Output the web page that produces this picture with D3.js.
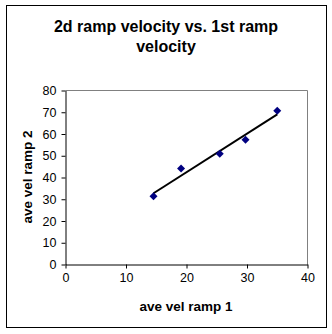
<!DOCTYPE html>
<html><head><meta charset="utf-8">
<script src="https://cdn.jsdelivr.net/npm/d3@7"></script>
<style>body{margin:0;background:#fff;}svg{display:block;}</style>
</head><body>
<script>
const titleLines = ["2d ramp velocity vs. 1st ramp", "velocity"];
const xLabel = "ave vel ramp 1";
const yLabel = "ave vel ramp 2";
const xValues = [14.55, 19.1, 25.5, 29.75, 35.0];
const yValues = [31.4, 44.1, 50.9, 57.3, 70.7];
const xTicks = [0, 10, 20, 30, 40];
const yTicks = [0, 10, 20, 30, 40, 50, 60, 70, 80];

const W = 332, H = 334;
const svg = d3.select("body").append("svg").attr("width", W).attr("height", H);
svg.append("rect").attr("x", 6.5).attr("y", 5.5).attr("width", 320).attr("height", 322)
  .attr("fill", "#fff").attr("stroke", "#000").attr("stroke-width", 1);

const font = "Liberation Sans, Arial, sans-serif";
const x = d3.scaleLinear().domain([0, 40]).range([65.5, 307.5]);
const y = d3.scaleLinear().domain([0, 80]).range([264.5, 90.5]);

// plot frame (top/right gray)
svg.append("path").attr("d", `M${x(0)},${y(80)}H${x(40)}V${y(0)}`)
  .attr("fill", "none").attr("stroke", "#808080").attr("stroke-width", 1);

const xa = svg.append("g").attr("transform", `translate(0,${y(0)})`)
  .call(d3.axisBottom(x).tickValues(xTicks).tickSize(4).tickSizeOuter(0).tickPadding(5));
const ya = svg.append("g").attr("transform", `translate(${x(0)},0)`)
  .call(d3.axisLeft(y).tickValues(yTicks).tickSize(4).tickSizeOuter(0).tickPadding(5));
[xa, ya].forEach(a => {
  a.select(".domain").attr("stroke", "#000");
  a.selectAll(".tick line").attr("stroke", "#000");
  a.selectAll("text").attr("font-family", font).attr("font-size", 12.5).attr("fill", "#000");
});

// trend line (least squares)
const n = xValues.length;
const mx = d3.mean(xValues), my = d3.mean(yValues);
let sxy = 0, sxx = 0;
for (let i = 0; i < n; i++) { sxy += (xValues[i]-mx)*(yValues[i]-my); sxx += (xValues[i]-mx)**2; }
const slope = sxy / sxx, icpt = my - slope * mx;
const x0 = d3.min(xValues), x1 = d3.max(xValues);
svg.append("line").attr("x1", x(x0)).attr("y1", y(icpt + slope*x0))
  .attr("x2", x(x1)).attr("y2", y(icpt + slope*x1))
  .attr("stroke", "#000").attr("stroke-width", 2);

svg.selectAll("path.pt").data(xValues).enter().append("path")
  .attr("class", "pt")
  .attr("d", (d, i) => { const cx = x(d), cy = y(yValues[i]), r = 4;
    return `M${cx},${cy-r}L${cx+r},${cy}L${cx},${cy+r}L${cx-r},${cy}Z`; })
  .attr("fill", "#000080");

svg.selectAll("text.title").data(titleLines).enter().append("text")
  .attr("class", "title").attr("x", 166).attr("y", (d, i) => 32 + i * 20)
  .attr("text-anchor", "middle").attr("font-family", font).attr("font-weight", "bold")
  .attr("font-size", 16).text(d => d);

svg.append("text").attr("x", 186).attr("y", 311).attr("text-anchor", "middle")
  .attr("font-family", font).attr("font-weight", "bold").attr("font-size", 13.5).text(xLabel);
svg.append("text").attr("transform", `translate(32,177) rotate(-90)`).attr("text-anchor", "middle")
  .attr("font-family", font).attr("font-weight", "bold").attr("font-size", 13.5).text(yLabel);
</script>
</body></html>
